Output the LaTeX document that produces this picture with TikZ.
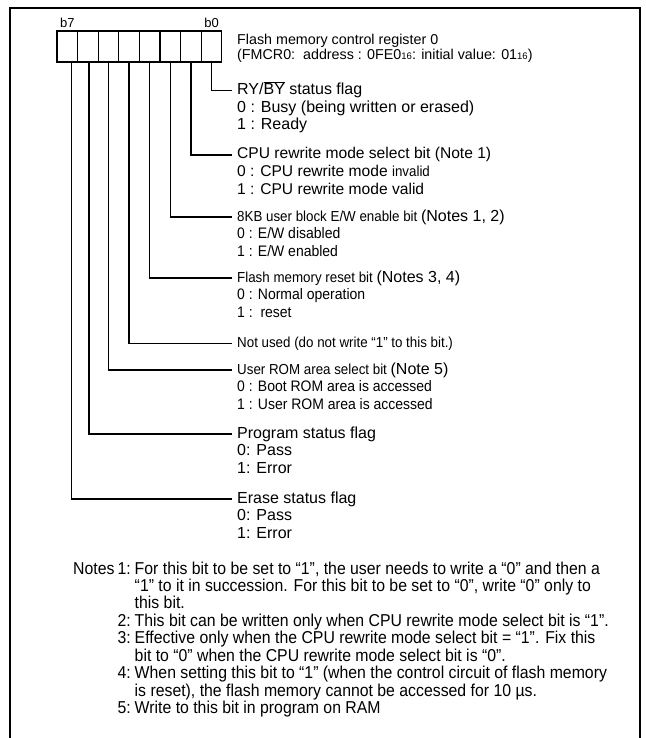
\documentclass[tikz,border=0pt]{standalone}
\usepackage{fontspec}
\setmainfont{Liberation Sans}
\newfontfamily\narrowfont[FakeStretch=0.92]{Liberation Sans}
\usetikzlibrary{positioning}

\newcommand{\regbig}{\rmfamily\fontsize{16}{17}\selectfont}
\newcommand{\regmid}{\rmfamily\fontsize{15.6}{17}\selectfont}
\newcommand{\regsmall}{\narrowfont\fontsize{14.5}{15}\selectfont}
\newcommand{\regval}{\narrowfont\fontsize{15.2}{16}\selectfont}
\newcommand{\hexsub}{{\fontsize{9.5}{10}\selectfont 16}}

\begin{document}
\begin{tikzpicture}[
    x=1pt,y=-1pt,
    cell/.style={rectangle,draw,line width=1.3pt,minimum width=20.6pt,minimum height=31pt,inner sep=0pt},
    bitlbl/.style={inner sep=0pt,font=\fontsize{13}{13}\selectfont},
    wire/.style={line width=1.3pt},
    frame/.style={line width=1.8pt},
    big/.style={anchor=base west,inner sep=0pt,font=\regbig},
    mid/.style={anchor=base west,inner sep=0pt,font=\regmid},
    small/.style={anchor=base west,inner sep=0pt,font=\regsmall},
    val/.style={anchor=base west,inner sep=0pt,font=\regval},
    ttl/.style={anchor=base west,inner sep=0pt,font=\fontsize{14.3}{16}\selectfont},
    nxt/.style={below=17.5pt of #1.base west,anchor=base west}
]
    \useasboundingbox (0,0) rectangle (645,738);
    % Outer frame
    \draw[frame] (10,738) -- (10,8) -- (640,8) -- (640,738);

    % Register cells b7 ... b0
    \foreach \i in {0,...,7} {
        \node[cell] (c\i) at ({67.3+20.6*(7-\i)},46.5) {};
    }
    \node[bitlbl,above=3pt of c7] (b7) {b7};
    \node[bitlbl,above=3pt of c0] (b0) {b0};

    % Register name
    \node[ttl] (ttl1) at (237,45) {Flash memory control register 0};
    \node[ttl,below=15pt of ttl1.base west,anchor=base west] (ttl2) {(FMCR0:\ \ address : 0FE0\hexsub: initial value: 01\hexsub)};

    % Bit descriptions
    \node[big] (hd0) at (237,95) {RY/$\overline{\mbox{BY}}$ status flag};
    \node[big,nxt=hd0] (vl0a) {0 : Busy (being written or erased)};
    \node[big,nxt=vl0a] (vl0b) {1 : Ready};

    \node[mid] (hd1) at (237,159) {CPU rewrite mode select bit (Note 1)};
    \node[mid,nxt=hd1] (vl1a) {0 : CPU rewrite mode {\regsmall invalid}};
    \node[mid,nxt=vl1a] (vl1b) {1 : CPU rewrite mode valid};

    \node[small] (hd2) at (237,221) {8KB user block E/W enable bit {\regbig (Notes 1, 2)}};
    \node[val,nxt=hd2] (vl2a) {0 : E/W disabled};
    \node[val,nxt=vl2a] (vl2b) {1 : E/W enabled};

    \node[small] (hd3) at (237,282) {Flash memory reset bit {\regbig (Notes 3, 4)}};
    \node[val,nxt=hd3] (vl3a) {0 : Normal operation};
    \node[val,nxt=vl3a] (vl3b) {1 :\ \ reset};

    \node[small] (hd4) at (237,347) {Not used (do not write “1” to this bit.)};

    \node[small] (hd5) at (237,374) {User ROM area select bit {\regbig (Note 5)}};
    \node[val,nxt=hd5] (vl5a) {0 : Boot ROM area is accessed};
    \node[val,nxt=vl5a] (vl5b) {1 : User ROM area is accessed};

    \node[big] (hd6) at (237,438) {Program status flag};
    \node[big,nxt=hd6] (vl6a) {0: Pass};
    \node[big,nxt=vl6a] (vl6b) {1: Error};

    \node[big] (hd7) at (237,503) {Erase status flag};
    \node[big,nxt=hd7] (vl7a) {0: Pass};
    \node[big,nxt=vl7a] (vl7b) {1: Error};

    % Wires from bits to descriptions
    \foreach \i/\dx in {0/0,1/0,2/0,3/0,4/0,5/0,6/1,7/4.5} {
        \draw[wire] ([xshift=\dx pt]c\i.south) |- ([xshift=-5pt]hd\i.west);
    }

    % Notes
    \node[anchor=base west,inner sep=0pt,font=\narrowfont\fontsize{17.2}{16.6}\selectfont] (notes) at (73,574) {%
        \begin{tabular}[t]{@{}r@{\hspace{3pt}}l@{\hspace{4pt}}l@{}}
        Notes & 1: & For this bit to be set to “1”, the user needs to write a “0” and then a\\
              &    & “1” to it in succession. For this bit to be set to “0”, write “0” only to\\
              &    & this bit.\\
              & 2: & This bit can be written only when CPU rewrite mode select bit is “1”.\\
              & 3: & Effective only when the CPU rewrite mode select bit = “1”. Fix this\\
              &    & bit to “0” when the CPU rewrite mode select bit is “0”.\\
              & 4: & When setting this bit to “1” (when the control circuit of flash memory\\
              &    & is reset), the flash memory cannot be accessed for 10 µs.\\
              & 5: & Write to this bit in program on RAM
        \end{tabular}};
\end{tikzpicture}
\end{document}
